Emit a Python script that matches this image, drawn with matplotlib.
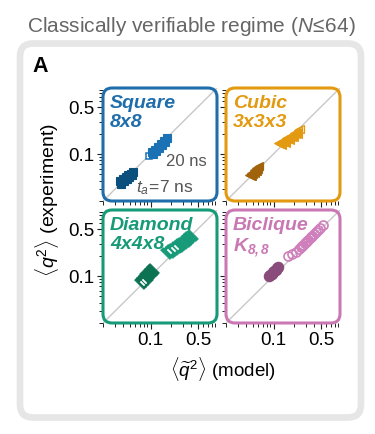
import matplotlib
matplotlib.use('Agg')
import matplotlib.pyplot as plt
from matplotlib.patches import FancyBboxPatch
from matplotlib.ticker import NullFormatter
import numpy as np

plt.rcParams['font.family'] = ['Liberation Sans', 'DejaVu Sans']
plt.rcParams['mathtext.fontset'] = 'custom'
plt.rcParams['mathtext.rm'] = 'Liberation Sans'
plt.rcParams['mathtext.it'] = 'Liberation Sans:italic'
plt.rcParams['mathtext.bf'] = 'Liberation Sans:italic:bold'

# ---------------- data ----------------
major_ticks = [0.1, 0.5]
tick_labels = ['0.1', '0.5']
minor_ticks = [0.02, 0.03, 0.04, 0.05, 0.06, 0.07, 0.08, 0.09,
               0.2, 0.3, 0.4, 0.6, 0.7, 0.8, 0.9]

# Square 8x8
sq_dark_x = [0.036, 0.037, 0.039, 0.041, 0.043, 0.045, 0.047, 0.049, 0.051, 0.053, 0.055]
sq_dark_y = [0.039, 0.036, 0.042, 0.040, 0.046, 0.043, 0.049, 0.046, 0.051, 0.049, 0.053]
sq_light_x = [0.104, 0.110, 0.116, 0.122, 0.128, 0.135, 0.142, 0.150, 0.158, 0.166, 0.175]
sq_light_y = [0.106, 0.101, 0.116, 0.111, 0.128, 0.122, 0.141, 0.135, 0.155, 0.151, 0.170]
sq_open_x = [0.096]
sq_open_y = [0.094]

# Cubic 3x3x3
cu_dark_x = [0.045, 0.047, 0.049, 0.051, 0.053, 0.055, 0.057]
cu_dark_y = [0.048, 0.048, 0.052, 0.053, 0.057, 0.058, 0.062]
cu_dark_open_x = [0.059, 0.061]
cu_dark_open_y = [0.064, 0.066]
cu_light_x = [0.121, 0.130, 0.139, 0.148, 0.158, 0.168, 0.180, 0.192, 0.205, 0.218]
cu_light_y = [0.143, 0.140, 0.156, 0.152, 0.170, 0.167, 0.186, 0.183, 0.205, 0.203]
cu_light_open_x = [0.232, 0.246]
cu_light_open_y = [0.223, 0.234]

# Diamond 4x4x8
gr_dark_x = [0.071, 0.075, 0.079, 0.083, 0.088, 0.093, 0.098, 0.104, 0.110]
gr_dark_y = [0.078, 0.083, 0.089, 0.095, 0.101, 0.107, 0.114, 0.121, 0.128]
gr_light_x = [0.170, 0.185, 0.200, 0.216, 0.233, 0.252, 0.272, 0.294, 0.318, 0.343, 0.372, 0.406]
gr_light_y = [0.216, 0.228, 0.240, 0.252, 0.265, 0.279, 0.294, 0.310, 0.329, 0.350, 0.378, 0.411]
gr_open_x = [0.075, 0.080, 0.190, 0.215, 0.240]
gr_open_y = [0.078, 0.084, 0.232, 0.250, 0.270]

# Biclique K8,8
pk_dark_x = [0.087, 0.090, 0.094, 0.098, 0.102, 0.107, 0.112, 0.117]
pk_dark_y = [0.100, 0.104, 0.108, 0.113, 0.118, 0.124, 0.130, 0.137]
pk_light_x = [0.164, 0.190, 0.215, 0.235, 0.250, 0.262, 0.275, 0.288, 0.300, 0.312,
              0.325, 0.340, 0.355, 0.372, 0.395, 0.420, 0.450, 0.490, 0.530]
pk_light_y = [0.197, 0.212, 0.225, 0.250, 0.265, 0.280, 0.292, 0.305, 0.318, 0.332,
              0.345, 0.360, 0.378, 0.395, 0.420, 0.445, 0.480, 0.520, 0.570]

# ---------------- figure ----------------
W, H = 375, 435
fig = plt.figure(figsize=(W / 100, H / 100), dpi=100)

# outer grey rounded frame
outer = FancyBboxPatch((0.20, 0.165), 3.41, 3.74,
                       boxstyle='round,pad=0,rounding_size=0.13',
                       transform=fig.dpi_scale_trans, fc='white', ec='#e6e6e6',
                       lw=4.8, zorder=-10)
fig.add_artist(outer)

fig.text(191 / W, 1 - 26 / H, r'Classically verifiable regime ($N\!\leq\!64$)',
         ha='center', va='center', fontsize=15, color='#666666')
fig.text(32 / W, 1 - 67 / H, 'A', ha='left', va='center', fontsize=15.5,
         fontweight='bold', color='black')


def px_axes(x0, y0, x1, y1):
    return fig.add_axes([x0 / W, 1 - y1 / H, (x1 - x0) / W, (y1 - y0) / H])


ax_sq = px_axes(103, 89, 217, 202)
ax_cu = px_axes(226, 89, 340, 202)
ax_gr = px_axes(103, 211, 217, 324)
ax_pk = px_axes(226, 211, 340, 324)

rect_verts = [(-0.95, 0.55), (-0.55, 0.95), (0.95, -0.55), (0.55, -0.95), (-0.95, 0.55)]

panels = [
    (ax_sq, '#1f6eab', 'Square\n8x8', True, False),
    (ax_cu, '#e39a10', 'Cubic\n3x3x3', False, False),
    (ax_gr, '#169a78', 'Diamond\n4x4x8', True, True),
    (ax_pk, '#c978b4', 'Biclique\n' + r'$\mathbf{K_{8,8}}$', False, True),
]

for ax, col, lab, leftcol, bottomrow in panels:
    ax.set_xscale('log')
    ax.set_yscale('log')
    for s in ax.spines.values():
        s.set_visible(False)
    ax.patch.set_alpha(0)
    ax.set_xticks(major_ticks, tick_labels)
    ax.set_yticks(major_ticks, tick_labels)
    ax.set_xticks(minor_ticks, minor=True)
    ax.set_yticks(minor_ticks, minor=True)
    ax.xaxis.set_minor_formatter(NullFormatter())
    ax.yaxis.set_minor_formatter(NullFormatter())
    ax.tick_params(which='major', direction='out', length=4.5, width=0.8,
                   labelsize=13.5, pad=1.5, color='#222222')
    ax.tick_params(which='minor', direction='out', length=3, width=0.7, color='#222222')
    ax.tick_params(labelleft=leftcol, labelbottom=bottomrow)
    ax.axline((0.1, 0.1), (0.5, 0.5), color='#c8c8c8', lw=1.0, zorder=1)
    box = FancyBboxPatch((0, 0), 1, 1, boxstyle='round,pad=0,rounding_size=0.08',
                         transform=ax.transAxes, fc='none', ec=col, lw=2.2,
                         clip_on=False, zorder=6)
    ax.add_patch(box)
    ax.text(0.06, 0.95, lab, transform=ax.transAxes, ha='left', va='top',
            fontsize=14, fontweight='bold', style='italic', color=col,
            linespacing=1.15, zorder=7)

# Square
ax_sq.plot(sq_dark_x, sq_dark_y, ls='none', marker='s', ms=6, mfc='#0b4f7c',
           mec='#0b4f7c', mew=0.8, zorder=3)
ax_sq.plot(sq_light_x, sq_light_y, ls='none', marker='s', ms=6, mfc='#1a72b5',
           mec='#1a72b5', mew=0.8, zorder=3)
ax_sq.plot(sq_open_x, sq_open_y, ls='none', marker='s', ms=5, mfc='white',
           mec='#1a72b5', mew=1.1, zorder=2)
ax_sq.text(0.55, 0.36, '20 ns', transform=ax_sq.transAxes, ha='left', va='center',
           fontsize=12, color='#555555', zorder=7)
ax_sq.text(0.29, 0.13, r'$t_a\!=\!7$ ns', transform=ax_sq.transAxes, ha='left',
           va='center', fontsize=12.5, color='#555555', zorder=7)

# Cubic
ax_cu.plot(cu_dark_x, cu_dark_y, ls='none', marker='<', ms=6.5, mfc='#a0630c',
           mec='#a0630c', mew=0.8, zorder=3)
ax_cu.plot(cu_dark_open_x, cu_dark_open_y, ls='none', marker='<', ms=5.5, mfc='none',
           mec='#a0630c', mew=0.9, zorder=3)
ax_cu.plot(cu_light_x, cu_light_y, ls='none', marker='<', ms=6.5, mfc='#e39a10',
           mec='#e39a10', mew=0.8, zorder=3)
ax_cu.plot(cu_light_open_x, cu_light_open_y, ls='none', marker='<', ms=5.5, mfc='none',
           mec='#e39a10', mew=0.9, zorder=3)

# Diamond
ax_gr.plot(gr_dark_x, gr_dark_y, ls='none', marker=rect_verts, ms=8.5, mfc='#0b7252',
           mec='#0b7252', mew=0.5, zorder=3)
ax_gr.plot(gr_light_x, gr_light_y, ls='none', marker=rect_verts, ms=8.5, mfc='#169a78',
           mec='#169a78', mew=0.5, zorder=3)
ax_gr.plot(gr_open_x, gr_open_y, ls='none', marker=rect_verts, ms=3.5, mfc='white',
           mec='white', mew=0.3, zorder=4)

# Biclique
ax_pk.plot(pk_dark_x, pk_dark_y, ls='none', marker='o', ms=7.5, mfc='#8a4c7a',
           mec='#8a4c7a', mew=0.8, zorder=3)
ax_pk.plot(pk_light_x, pk_light_y, ls='none', marker='o', ms=6.5, mfc='none',
           mec='#cf7fbb', mew=1.2, zorder=3)

for ax in (ax_sq, ax_cu, ax_gr, ax_pk):
    ax.set_xlim(0.02, 0.95)
    ax.set_ylim(0.02, 0.95)

fig.text(47 / W, 1 - 200 / H, r'$\langle q^2\rangle$ (experiment)', rotation=90,
         ha='center', va='center', fontsize=14)
fig.text(223 / W, 1 - 369 / H, r'$\langle \widetilde{q}^2\rangle$ (model)',
         ha='center', va='center', fontsize=13.5)

fig.savefig('out.png', dpi=100, facecolor='white')
